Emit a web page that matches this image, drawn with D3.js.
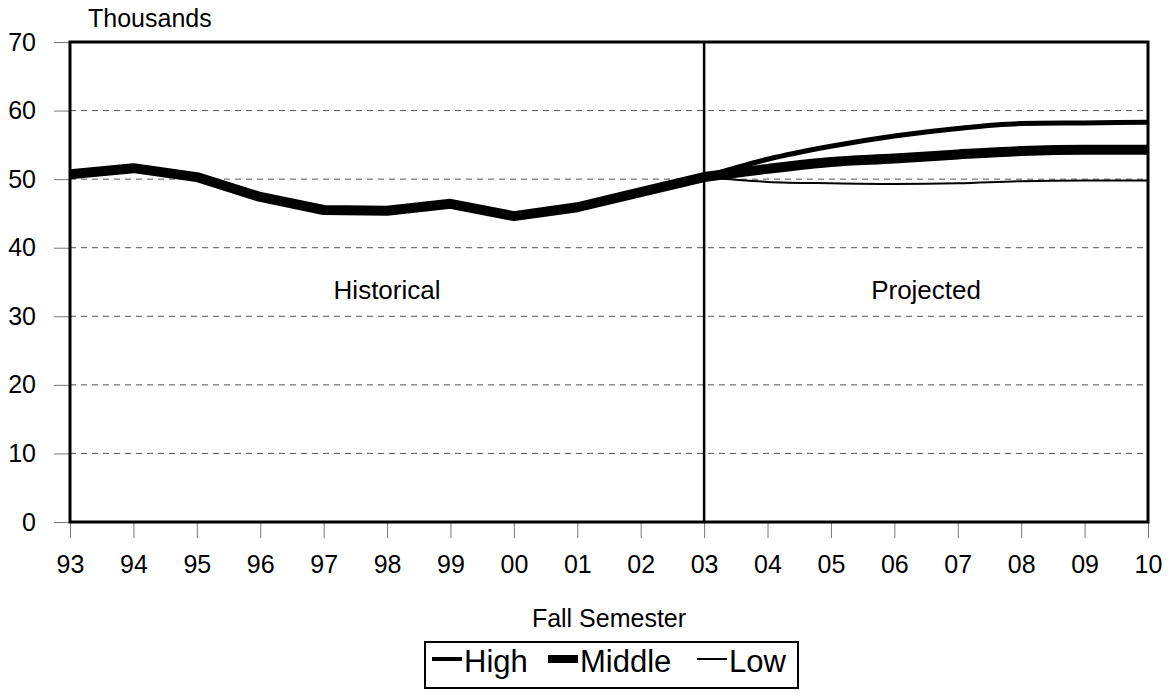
<!DOCTYPE html>
<html>
<head>
<meta charset="utf-8">
<script src="https://cdn.jsdelivr.net/npm/d3@7"></script>
<style>
  body { margin: 0; background: #fff; }
  text { font-family: "Liberation Sans", Arial, sans-serif; fill: #000; }
</style>
</head>
<body>
<svg id="chart" width="1170" height="692"></svg>
<script>
// Fall semester labels (93 .. 10)
const years = ["93","94","95","96","97","98","99","00","01","02","03","04","05","06","07","08","09","10"];
const yTicks = [0, 10, 20, 30, 40, 50, 60, 70];

// historical enrollment, thousands (93 .. 03)
const historical = [50.7, 51.6, 50.3, 47.4, 45.5, 45.4, 46.4, 44.6, 45.9, 48.1, 50.3];

// projections (03 .. 10)
const high   = [50.3, 52.9, 54.8, 56.3, 57.4, 58.1, 58.2, 58.3];
const middle = [50.3, 51.5, 52.5, 53.0, 53.6, 54.1, 54.3, 54.3];
const low    = [50.3, 49.6, 49.4, 49.3, 49.4, 49.7, 49.8, 49.8];

const seriesStyle = [
  { name: "High",   values: high,   width: 5,  legendWidth: 4 },
  { name: "Middle", values: middle, width: 10, legendWidth: 8 },
  { name: "Low",    values: low,    width: 2,  legendWidth: 2 }
];

const svg = d3.select("#chart");
const margin = { top: 42, right: 22, bottom: 170, left: 70 };
const W = 1170, H = 692;
const iw = W - margin.left - margin.right;
const ih = H - margin.top - margin.bottom;

const x = d3.scalePoint().domain(years).range([0, iw]);
const y = d3.scaleLinear().domain([0, 70]).range([ih, 0]);

const g = svg.append("g").attr("transform", `translate(${margin.left},${margin.top})`);

// dashed gridlines
g.selectAll("line.grid")
  .data(yTicks.filter(d => d > 0 && d < 70))
  .join("line")
  .attr("x1", 0).attr("x2", iw)
  .attr("y1", d => y(d)).attr("y2", d => y(d))
  .attr("stroke", "#555").attr("stroke-width", 1)
  .attr("stroke-dasharray", "6,5");

// y axis
const yAxis = g.append("g")
  .call(d3.axisLeft(y).tickValues(yTicks).tickSize(16).tickPadding(18).tickFormat(d3.format("d")));
yAxis.select(".domain").remove();
yAxis.selectAll(".tick line").attr("stroke", "#777");
yAxis.selectAll(".tick text").attr("font-size", 25).style("font-family", "Liberation Sans, Arial, sans-serif");

// x axis
const xAxis = g.append("g")
  .attr("transform", `translate(0,${ih})`)
  .call(d3.axisBottom(x).tickSize(16).tickPadding(17));
xAxis.select(".domain").remove();
xAxis.selectAll(".tick line").attr("stroke", "#777");
xAxis.selectAll(".tick text").attr("font-size", 25).style("font-family", "Liberation Sans, Arial, sans-serif");

// frame
g.append("rect")
  .attr("x", 0).attr("y", 0).attr("width", iw).attr("height", ih)
  .attr("fill", "none").attr("stroke", "#000").attr("stroke-width", 3);

// historical / projected divider
g.append("line")
  .attr("x1", x("03")).attr("x2", x("03"))
  .attr("y1", 0).attr("y2", ih)
  .attr("stroke", "#000").attr("stroke-width", 2.5);

g.append("text").attr("x", (x("93") + x("03")) / 2).attr("y", y(32.5))
  .attr("text-anchor", "middle").attr("font-size", 26).text("Historical");
g.append("text").attr("x", (x("03") + x("10")) / 2).attr("y", y(32.5))
  .attr("text-anchor", "middle").attr("font-size", 26).text("Projected");

const line = d3.line().x(d => x(d[0])).y(d => y(d[1]));
const projLine = d3.line().x(d => x(d[0])).y(d => y(d[1])).curve(d3.curveMonotoneX);

// clip lines to the plot frame
svg.append("clipPath").attr("id", "plot")
  .append("rect").attr("width", iw).attr("height", ih);

const lines = g.append("g").attr("clip-path", "url(#plot)");

lines.append("path")
  .datum(historical.map((v, i) => [years[i], v]))
  .attr("d", line)
  .attr("fill", "none").attr("stroke", "#000").attr("stroke-width", 10)
  .attr("stroke-linejoin", "round");

const projYears = years.slice(10);
seriesStyle.forEach(s => {
  lines.append("path")
    .datum(s.values.map((v, i) => [projYears[i], v]))
    .attr("d", projLine)
    .attr("fill", "none").attr("stroke", "#000").attr("stroke-width", s.width);
});

// titles
svg.append("text").attr("x", 88).attr("y", 27).attr("font-size", 25).text("Thousands");
svg.append("text").attr("x", margin.left + iw / 2).attr("y", 627)
  .attr("text-anchor", "middle").attr("font-size", 25).text("Fall Semester");

// legend
const lg = svg.append("g").attr("transform", "translate(425,642)");
lg.append("rect").attr("width", 373).attr("height", 46)
  .attr("fill", "#fff").attr("stroke", "#000").attr("stroke-width", 2);
const legendX = [7, 123, 272];
seriesStyle.forEach((s, i) => {
  const item = lg.append("g").attr("transform", `translate(${legendX[i]},17)`);
  item.append("line").attr("x1", 0).attr("x2", 30).attr("y1", 0).attr("y2", 0)
    .attr("stroke", "#000").attr("stroke-width", s.legendWidth);
  item.append("text").attr("x", 32).attr("y", 13).attr("font-size", 31).text(s.name);
});
</script>
</body>
</html>
